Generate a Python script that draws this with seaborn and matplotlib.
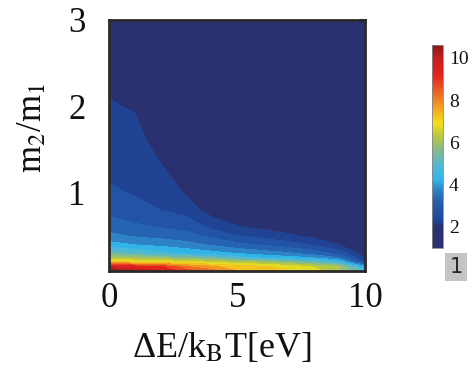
import numpy as np
import matplotlib
matplotlib.use("Agg")
import matplotlib.pyplot as plt
from matplotlib.colors import LinearSegmentedColormap, Normalize
from matplotlib.cm import ScalarMappable
import seaborn as sns

# ---- data ----
energy = [0, 1, 2, 3, 4, 5, 6, 7, 8, 9, 10]                 # ΔE/kBT [eV]
mass_ratio = [0.1, 0.15, 0.2, 0.25, 0.3, 0.4, 0.5, 0.6, 0.8,
              1.0, 1.3, 1.6, 2.0, 2.4, 3.0]                  # m2/m1
# one list per energy column, values along mass_ratio
col_e0 = [10.6, 9.5, 7.3, 6.2, 5.3, 4.2, 3.65, 3.3, 2.85, 2.6, 2.35, 2.2, 2.03, 1.9, 1.7]
col_e1 = [10.0, 9.3, 7.0, 6.0, 5.0, 4.0, 3.45, 3.1, 2.7, 2.45, 2.25, 2.12, 1.97, 1.85, 1.65]
col_e2 = [9.5, 9.0, 6.9, 5.8, 4.7, 3.85, 3.35, 3.0, 2.5, 2.3, 2.03, 1.85, 1.7, 1.6, 1.5]
col_e3 = [8.8, 8.0, 6.7, 5.6, 4.4, 3.7, 3.2, 2.85, 2.3, 1.95, 1.75, 1.6, 1.5, 1.45, 1.4]
col_e4 = [8.2, 7.6, 6.5, 5.3, 4.2, 3.45, 2.9, 2.4, 1.75, 1.6, 1.45, 1.4, 1.35, 1.3, 1.25]
col_e5 = [7.5, 7.2, 6.2, 4.8, 4.0, 3.15, 2.55, 2.05, 1.6, 1.45, 1.35, 1.3, 1.25, 1.2, 1.15]
col_e6 = [7.2, 7.1, 6.0, 4.4, 3.8, 2.95, 2.35, 1.9, 1.5, 1.4, 1.3, 1.25, 1.2, 1.15, 1.1]
col_e7 = [7.0, 6.8, 5.6, 4.2, 3.6, 2.75, 2.1, 1.75, 1.45, 1.35, 1.25, 1.2, 1.15, 1.1, 1.05]
col_e8 = [6.8, 6.4, 5.2, 4.0, 3.3, 2.4, 1.9, 1.65, 1.4, 1.3, 1.2, 1.15, 1.1, 1.08, 1.04]
col_e9 = [6.0, 6.0, 4.5, 3.5, 2.8, 2.0, 1.7, 1.55, 1.35, 1.25, 1.18, 1.12, 1.08, 1.05, 1.03]
col_e10 = [4.8, 4.0, 2.5, 1.95, 1.7, 1.5, 1.4, 1.35, 1.25, 1.2, 1.15, 1.1, 1.08, 1.05, 1.02]

x_ticks = [0, 5, 10]
y_ticks = [1, 2, 3]
cbar_ticks = [2, 4, 6, 8, 10]
vmin, vmax = 1.0, 10.6

Z = np.array([col_e0, col_e1, col_e2, col_e3, col_e4, col_e5, col_e6,
              col_e7, col_e8, col_e9, col_e10]).T

# ---- style ----
sns.set_style("white")
plt.rcParams["font.family"] = ["Liberation Serif", "DejaVu Serif"]
plt.rcParams["mathtext.fontset"] = "stix"

def v(val):
    return (val - vmin) / (vmax - vmin)

navy = "#2A3170"
cmap = LinearSegmentedColormap.from_list("muted_jet", [
    (v(1.0), navy), (v(2.0), navy), (v(2.3), "#1F479B"),
    (v(3.2), "#2560AE"), (v(3.8), "#2E86C8"), (v(4.2), "#2EB4E8"),
    (v(4.8), "#4CB8D8"), (v(5.5), "#7CB89A"), (v(6.3), "#B8C840"),
    (v(6.9), "#F2DE1A"), (v(7.6), "#F5A623"), (v(8.3), "#EE6A24"),
    (v(9.2), "#E3231E"), (v(10.0), "#C41E1E"), (v(10.6), "#8A1A1A")])

fig = plt.figure(figsize=(4.73, 3.70), dpi=100)
ax = fig.add_axes([0.231, 0.268, 0.541, 0.678])
ax.set_facecolor(navy)

levels = np.append(np.arange(1.0, 10.51, 0.5), 10.6)
cf = ax.contourf(energy, mass_ratio, Z, levels=levels, cmap=cmap,
                 vmin=vmin, vmax=vmax, antialiased=False)

ax.set_xlim(0, 10)
ax.set_ylim(0.1, 3)
ax.set_xticks(x_ticks)
ax.set_yticks(y_ticks)
ax.tick_params(axis="both", direction="in", length=4, width=1.5,
               labelsize=25, colors="#222222", labelcolor="#111111",
               right=True)
ax.tick_params(axis="x", length=8, width=3.5, pad=8)
ax.tick_params(axis="y", pad=17)
for s in ax.spines.values():
    s.set_linewidth(2.0)
    s.set_color("#2a2a2a")
top = ax.secondary_xaxis("top")
top.set_xticks([3.9, 7.8])
top.tick_params(direction="in", length=3, width=1.5, labeltop=False, colors="#222222")
top.spines["top"].set_visible(False)

ax.set_xlabel(r"ΔE/k$_\mathrm{B}$T[eV]", fontsize=26, color="#111111")
ax.set_ylabel(r"m$_2$/m$_1$", fontsize=25, color="#111111")
ax.xaxis.set_label_coords(0.44, -0.24)
ax.yaxis.set_label_coords(-0.235, 0.57)

cax = fig.add_axes([0.913, 0.330, 0.024, 0.548])
sm = ScalarMappable(norm=Normalize(vmin, vmax), cmap=cmap)
cb = fig.colorbar(sm, cax=cax, ticks=cbar_ticks)
cb.ax.tick_params(direction="in", length=2, width=0.8, labelsize=14, pad=4,
                  colors="#444444", labelcolor="#111111")
cb.outline.set_edgecolor("#888888")
cb.outline.set_linewidth(0.6)

fig.text(0.964, 0.278, "1", fontsize=15, family="DejaVu Sans", ha="center", va="center",
         bbox=dict(boxstyle="square,pad=0.2", facecolor="#c4c4c4", edgecolor="none"))

fig.savefig("out.png", dpi=100)
